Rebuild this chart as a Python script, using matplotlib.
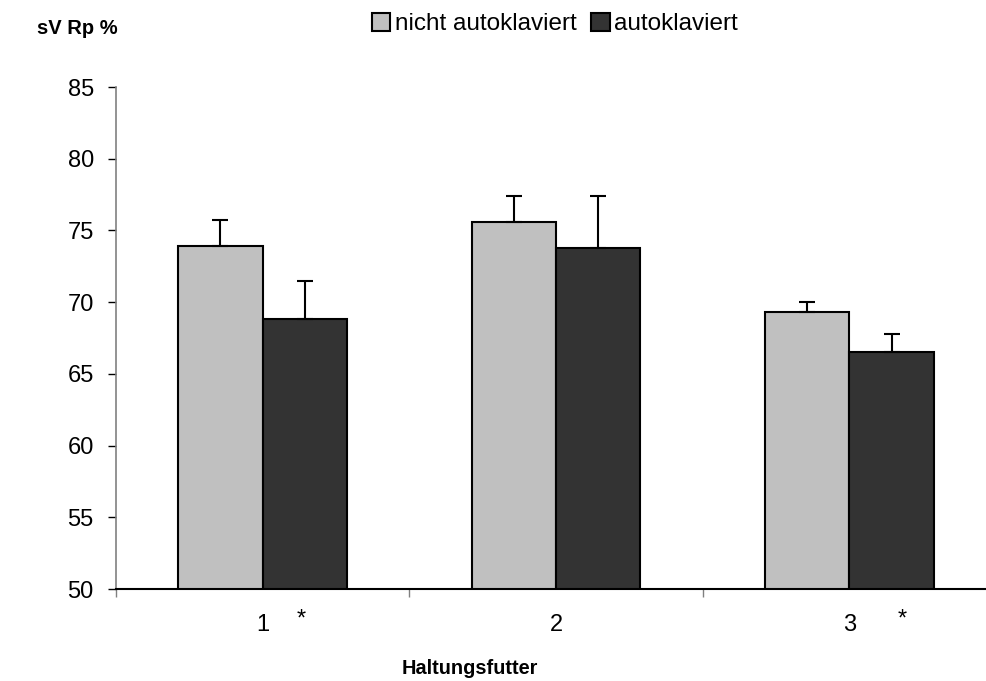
import matplotlib.pyplot as plt
import numpy as np

plt.rcParams['font.family'] = ['Liberation Sans', 'DejaVu Sans']

groups = ["1", "2", "3"]
nicht_auto = [73.9, 75.6, 69.3]
nicht_auto_err = [1.8, 1.8, 0.7]
auto = [68.8, 73.8, 66.5]
auto_err = [2.7, 3.6, 1.3]

x = np.arange(1, len(groups) + 1)
w = 0.288

fig = plt.figure(figsize=(9.86, 6.81), dpi=100)
ax = fig.add_axes([116 / 986, 1 - 589 / 681, 880 / 986, 502 / 681])

ekw = dict(ecolor="black", elinewidth=1.5, capsize=5.5, capthick=1.5)
# error bars only drawn upwards
ax.bar(x - w / 2, nicht_auto, w, yerr=[[0] * 3, nicht_auto_err], color="#c0c0c0",
       edgecolor="black", linewidth=1.5, label="nicht autoklaviert", error_kw=ekw)
ax.bar(x + w / 2, auto, w, yerr=[[0] * 3, auto_err], color="#333333",
       edgecolor="black", linewidth=1.5, label="autoklaviert", error_kw=ekw)

ax.set_ylim(50, 85)
ax.set_xlim(0.5, 3.5)
ax.set_yticks(np.arange(50, 86, 5))
ax.tick_params(axis="y", labelsize=17, length=6, width=1, direction="out", pad=10)

# group boundary ticks on x axis, labels in between
ax.set_xticks([0.5, 1.5, 2.5, 3.5])
ax.set_xticklabels([])
ax.tick_params(axis="x", length=6, width=1, color="#808080", direction="out")
for xi, g in zip(x, groups):
    ax.text(xi, 47.5, g, ha="center", va="center", fontsize=17)
ax.text(1.13, 47.85, "*", ha="center", va="center", fontsize=17)
ax.text(3.18, 47.85, "*", ha="center", va="center", fontsize=17)

for s in ["top", "right"]:
    ax.spines[s].set_visible(False)
ax.spines["left"].set_color("#808080")
ax.spines["left"].set_linewidth(1.2)
ax.spines["bottom"].set_color("black")
ax.spines["bottom"].set_linewidth(1.5)

fig.text(37 / 986, 1 - 29 / 681, "sV Rp %", fontsize=14.5, fontweight="bold",
         ha="left", va="center")
fig.text(470 / 986, 1 - 668 / 681, "Haltungsfutter", fontsize=14.3,
         fontweight="bold", ha="center", va="center")

fig.legend(loc="center", bbox_to_anchor=(555 / 986, 1 - 24 / 681), ncol=2,
           frameon=False, fontsize=17.5, handlelength=0.75, handleheight=0.8,
           handletextpad=0.2, columnspacing=0.6)

fig.savefig("out.png", dpi=100)
